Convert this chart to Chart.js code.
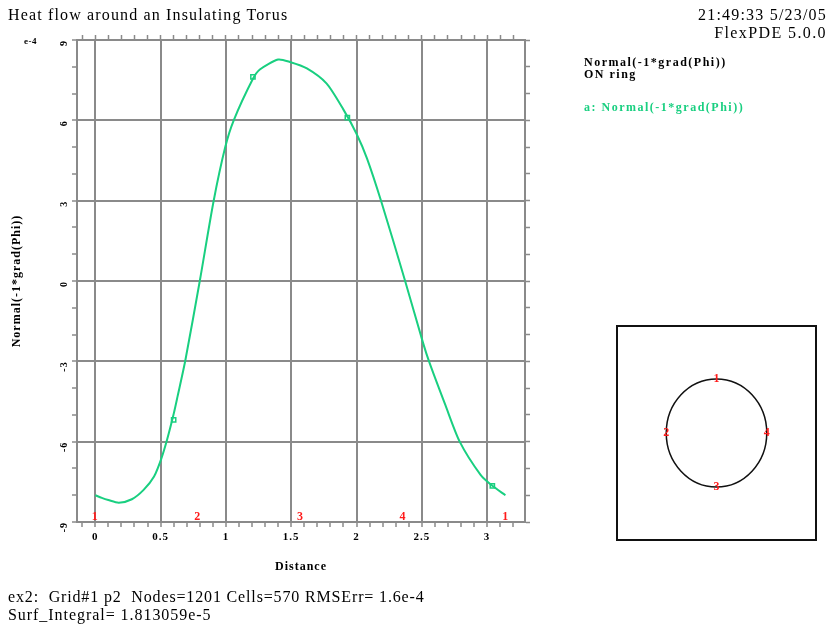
<!DOCTYPE html>
<html>
<head>
<meta charset="utf-8">
<script src="https://cdn.jsdelivr.net/npm/chart.js@4.4.1/dist/chart.umd.min.js"></script>
<style>
  body{margin:0;background:#fff;}
  #wrap{position:relative;width:831px;height:627px;overflow:hidden;font-family:"Liberation Serif",serif;color:#000;}
  #plot{position:absolute;left:0;top:0;}
  #inset{position:absolute;left:616px;top:325px;}
  .t{position:absolute;white-space:pre;line-height:1;}
  .big{font-size:16px;}
  .small{font-size:12px;font-weight:bold;letter-spacing:1.5px;}
</style>
</head>
<body>
<div id="wrap">
  <canvas id="plot" width="831" height="627"></canvas>
  <canvas id="inset" width="201" height="216"></canvas>
  <div class="t big" style="left:8px;top:7px;letter-spacing:1.15px">Heat flow around an Insulating Torus</div>
  <div class="t big" style="right:4px;top:7px;text-align:right;letter-spacing:1.2px">21:49:33 5/23/05</div>
  <div class="t big" style="right:4px;top:25px;text-align:right;letter-spacing:1.4px">FlexPDE 5.0.0</div>
  <div class="t small" style="left:584px;top:56px">Normal(-1*grad(Phi))</div>
  <div class="t small" style="left:584px;top:68px">ON ring</div>
  <div class="t small" style="left:584px;top:101px;color:#19cf80">a: Normal(-1*grad(Phi))</div>
  <div class="t small" style="left:24px;top:37px;font-size:9px;letter-spacing:0.5px">e-4</div>
  <div class="t big" style="left:8px;top:589px;letter-spacing:0.85px">ex2:  Grid#1 p2  Nodes=1201 Cells=570 RMSErr= 1.6e-4</div>
  <div class="t big" style="left:8px;top:607px;letter-spacing:0.95px">Surf_Integral= 1.813059e-5</div>
</div>
<script>
// curve (distance along ring, value in units of 1e-4)
const distance = [0, 0.05, 0.10, 0.18, 0.28, 0.37, 0.45, 0.505, 0.55, 0.60, 0.63, 0.69, 0.80, 0.905, 0.995, 1.06, 1.207, 1.26, 1.40, 1.49, 1.62, 1.77, 1.90, 2.0, 2.08, 2.19, 2.37, 2.51, 2.56, 2.68, 2.79, 2.95, 3.04, 3.14];
const fluxVal  = [-8.0, -8.1, -8.18, -8.28, -8.15, -7.8, -7.3, -6.64, -5.92, -4.97, -4.31, -2.95, 0.0, 2.96, 5.0, 6.0, 7.55, 7.9, 8.27, 8.18, 7.94, 7.38, 6.4, 5.5, 4.58, 2.96, 0.04, -2.32, -3.07, -4.63, -6.0, -7.24, -7.65, -8.0];
// square markers on the curve
const markX = [0.60, 1.207, 1.93, 3.04];
const markY = [-5.19, 7.62, 6.1, -7.65];
// ring node numbers and where they sit along the distance axis
const nodeLabels = ['1', '2', '3', '4', '1'];
const nodeDist = [0, 0.785, 1.571, 2.356, 3.142];
// axes
const xMin = -0.14, xMax = 3.29, yMin = -9, yMax = 9;
const xMajor = [0, 0.5, 1, 1.5, 2, 2.5, 3];
const yMajor = [-9, -6, -3, 0, 3, 6, 9];
// inset: ring drawn in its own little frame
const ringCenter = [0, 0], ringRadius = 1;
const ringNodes = [{n:'1', x:0, y:1}, {n:'2', x:-1, y:0}, {n:'3', x:0, y:-1}, {n:'4', x:1, y:0}];

const GREEN = '#19cf80', GRID = '#8a8a8a', RED = '#ff1a1a';
const isMajor = (v, list) => list.some(m => Math.abs(m - v) < 1e-6);

const xTicks = [];
for (let i = -1; i <= 32; i++) xTicks.push(+(i / 10).toFixed(1));
const yTicks = [];
for (let i = yMin; i <= yMax; i++) yTicks.push(i);

const setTicks = list => scale => { scale.ticks = list.map(v => ({value: v})); };
const fix = (prop, val) => scale => { scale[prop] = val; };

// the old bitmap font is wide; spread canvas text a little
const spacing = {
  id: 'spacing',
  beforeDraw(chart) { chart.ctx.letterSpacing = '1px'; }
};

const nodeLabelPlugin = {
  id: 'nodeLabels',
  afterDatasetsDraw(chart) {
    const {ctx, scales: {x, y}} = chart;
    ctx.save();
    ctx.fillStyle = RED;
    ctx.font = 'bold 12px "Liberation Serif"';
    ctx.textAlign = 'center';
    ctx.textBaseline = 'bottom';
    nodeLabels.forEach((t, i) => ctx.fillText(t, x.getPixelForValue(nodeDist[i]), y.getPixelForValue(yMin) + 1));
    ctx.restore();
  }
};

new Chart(document.getElementById('plot'), {
  type: 'scatter',
  data: {
    datasets: [
      {
        data: distance.map((d, i) => ({x: d, y: fluxVal[i]})),
        showLine: true, borderColor: GREEN, borderWidth: 2, pointRadius: 0,
        tension: 0.25
      },
      {
        data: markX.map((d, i) => ({x: d, y: markY[i]})),
        showLine: false, pointStyle: 'rect', pointRadius: 3,
        borderColor: GREEN, borderWidth: 1.5, backgroundColor: '#fff'
      }
    ]
  },
  options: {
    responsive: false, animation: false,
    layout: {padding: {top: 35, right: 301, bottom: 0, left: 0}},
    plugins: {legend: {display: false}, tooltip: {enabled: false}},
    scales: {
      x: {
        type: 'linear', position: 'bottom', min: xMin, max: xMax,
        afterBuildTicks: setTicks(xTicks), afterFit: fix('height', 105),
        border: {color: GRID, width: 2},
        grid: {
          color: c => isMajor(c.tick.value, xMajor) ? GRID : 'rgba(0,0,0,0)',
          tickColor: GRID, lineWidth: 2, tickWidth: 1.5, tickLength: 5
        },
        ticks: {
          autoSkip: false, maxRotation: 0, padding: 4, color: '#000',
          font: {family: 'Liberation Serif', size: 11, weight: 'bold'},
          callback: v => isMajor(v, xMajor) ? String(v) : ''
        },
        title: {
          display: true, text: 'Distance', color: '#000',
          font: {family: 'Liberation Serif', size: 12, weight: 'bold'},
          padding: {top: 0, bottom: 53}
        }
      },
      xTop: {
        type: 'linear', position: 'top', min: xMin, max: xMax,
        afterBuildTicks: setTicks(xTicks), afterFit: fix('height', 5),
        border: {color: GRID, width: 2},
        grid: {drawOnChartArea: false, tickColor: GRID, tickWidth: 1.5, tickLength: 5},
        ticks: {display: false}
      },
      y: {
        type: 'linear', position: 'left', min: yMin, max: yMax,
        afterBuildTicks: setTicks(yTicks), afterFit: fix('width', 77),
        border: {color: GRID, width: 2},
        grid: {
          color: c => isMajor(c.tick.value, yMajor) ? GRID : 'rgba(0,0,0,0)',
          tickColor: GRID, lineWidth: 2, tickWidth: 1.5, tickLength: 5
        },
        ticks: {
          autoSkip: false, minRotation: 90, maxRotation: 90, padding: 8, color: '#000',
          font: {family: 'Liberation Serif', size: 10, weight: 'bold'},
          callback: v => isMajor(v, yMajor) ? String(v) : ''
        },
        title: {
          display: true, text: 'Normal(-1*grad(Phi))', color: '#000',
          font: {family: 'Liberation Serif', size: 12, weight: 'bold'},
          padding: {top: 10, bottom: 0}
        }
      },
      yRight: {
        type: 'linear', position: 'right', min: yMin, max: yMax,
        afterBuildTicks: setTicks(yTicks), afterFit: fix('width', 5),
        border: {color: GRID, width: 2},
        grid: {drawOnChartArea: false, tickColor: GRID, tickWidth: 1.5, tickLength: 5},
        ticks: {display: false}
      }
    }
  },
  plugins: [spacing, nodeLabelPlugin]
});

// inset: boundary box with the ring and its node numbers
const ringPlugin = {
  id: 'ring',
  afterDraw(chart) {
    const {ctx, chartArea: a, scales: {x, y}} = chart;
    ctx.save();
    ctx.strokeStyle = '#111';
    ctx.lineWidth = 2;
    ctx.strokeRect(a.left + 1, a.top + 1, a.right - a.left - 2, a.bottom - a.top - 2);
    const cx = x.getPixelForValue(ringCenter[0]), cy = y.getPixelForValue(ringCenter[1]);
    const rx = Math.abs(x.getPixelForValue(ringRadius) - cx), ry = Math.abs(y.getPixelForValue(ringRadius) - cy);
    ctx.lineWidth = 1.5;
    ctx.beginPath();
    ctx.ellipse(cx, cy, rx, ry, 0, 0, Math.PI * 2);
    ctx.stroke();
    ctx.fillStyle = RED;
    ctx.font = 'bold 12px "Liberation Serif"';
    ctx.textAlign = 'center';
    ctx.textBaseline = 'middle';
    ringNodes.forEach(p => ctx.fillText(p.n, x.getPixelForValue(p.x), y.getPixelForValue(p.y)));
    ctx.restore();
  }
};

new Chart(document.getElementById('inset'), {
  type: 'scatter',
  data: {datasets: [{data: []}]},
  options: {
    responsive: false, animation: false,
    layout: {padding: 0},
    plugins: {legend: {display: false}, tooltip: {enabled: false}},
    scales: {
      x: {display: false, min: -2, max: 2},
      y: {display: false, min: -2, max: 2}
    }
  },
  plugins: [ringPlugin]
});
</script>
</body>
</html>
